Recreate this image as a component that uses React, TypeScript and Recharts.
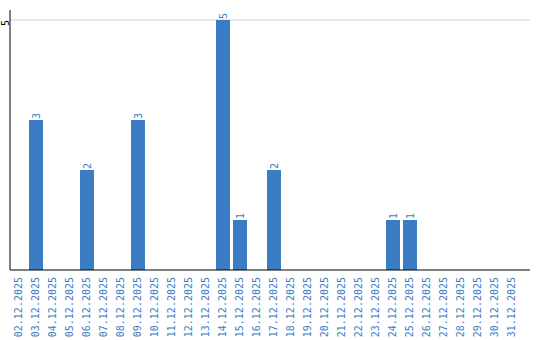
import { BarChart, Bar, XAxis, YAxis, CartesianGrid, LabelList } from "recharts";

// 12월 일자별 건수
const days = [
  "02.12.2025", "03.12.2025", "04.12.2025", "05.12.2025", "06.12.2025",
  "07.12.2025", "08.12.2025", "09.12.2025", "10.12.2025", "11.12.2025",
  "12.12.2025", "13.12.2025", "14.12.2025", "15.12.2025", "16.12.2025",
  "17.12.2025", "18.12.2025", "19.12.2025", "20.12.2025", "21.12.2025",
  "22.12.2025", "23.12.2025", "24.12.2025", "25.12.2025", "26.12.2025",
  "27.12.2025", "28.12.2025", "29.12.2025", "30.12.2025", "31.12.2025",
];
const counts = [
  0, 3, 0, 0, 2, 0, 0, 3, 0, 0,
  0, 0, 5, 1, 0, 2, 0, 0, 0, 0,
  0, 0, 1, 1, 0, 0, 0, 0, 0, 0,
];
const yTicks = [5];

const data = days.map((day, i) => ({ day, count: counts[i] }));

const BLUE = "#3b7dc4";
const FONT = "'DejaVu Sans Mono', monospace";

const XTick = (props: any) => {
  const { x, payload } = props;
  return (
    <text
      transform={`translate(${x},277) rotate(-90)`}
      textAnchor="end"
      dominantBaseline="central"
      fill={BLUE}
      fontSize={10}
      fontFamily={FONT}
    >
      {payload.value}
    </text>
  );
};

const YTick = (props: any) => {
  const { y, payload } = props;
  return (
    <text
      transform={`translate(5,${y + 3}) rotate(-90)`}
      textAnchor="middle"
      dominantBaseline="central"
      fill="#000"
      fontSize={10}
      fontFamily={FONT}
    >
      {payload.value}
    </text>
  );
};

const ValueLabel = (props: any) => {
  const { x, y, width, value } = props;
  if (!value) return null;
  return (
    <text
      transform={`translate(${x + width / 2},${y - 1}) rotate(-90)`}
      textAnchor="start"
      dominantBaseline="central"
      fill={BLUE}
      fontSize={10}
      fontFamily={FONT}
    >
      {value}
    </text>
  );
};

export default function App() {
  return (
    <div style={{ position: "absolute", left: 0, top: 0, width: 540, height: 340 }}>
      <BarChart
        width={540}
        height={340}
        data={data}
        margin={{ top: 10, right: 10, bottom: 0, left: 0 }}
      >
        <CartesianGrid vertical={false} stroke="#cccccc" horizontalValues={yTicks} />
        <XAxis
          dataKey="day"
          interval={0}
          height={70}
          padding={{ left: 0, right: 10 }}
          tickLine={false}
          axisLine={{ stroke: "#000" }}
          tick={<XTick />}
        />
        <YAxis
          width={10}
          domain={[0, 5.2]}
          ticks={yTicks}
          tickLine={false}
          axisLine={{ stroke: "#000" }}
          tick={<YTick />}
        />
        <Bar dataKey="count" fill={BLUE} barSize={14} isAnimationActive={false}>
          <LabelList dataKey="count" content={<ValueLabel />} />
        </Bar>
      </BarChart>
    </div>
  );
}
